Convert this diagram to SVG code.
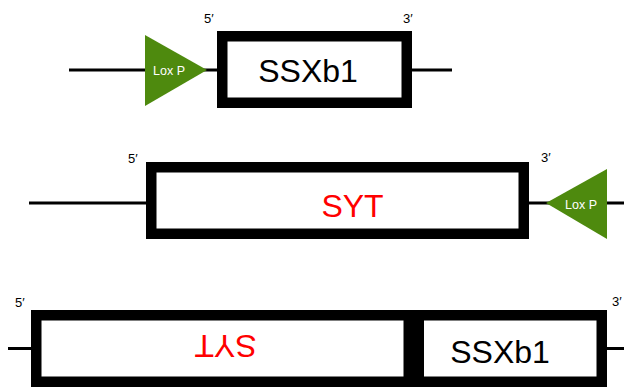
<svg xmlns="http://www.w3.org/2000/svg" width="624" height="388" viewBox="0 0 624 388">
<style>
.box{fill:#fff;stroke:#000;stroke-width:10.5}
.line{stroke:#000;stroke-width:3;fill:none}
.lox{fill:#4e8a0e}
.loxt{font-family:"Liberation Sans",Arial,sans-serif;font-size:12.5px;fill:#fff;text-anchor:middle}
.end{font-family:"Liberation Sans",Arial,sans-serif;font-size:13px;fill:#000}
.gene{font-family:"Liberation Sans",Arial,sans-serif;font-size:32px;text-anchor:middle}
</style>
<rect width="624" height="388" fill="#fff"/>
<g id="connectors">
<line class="line" x1="69" y1="70" x2="452" y2="70"/>
<line class="line" x1="29" y1="203" x2="624" y2="203"/>
<line class="line" x1="8" y1="348.5" x2="32" y2="348.5"/>
<line class="line" x1="606" y1="348.5" x2="624" y2="348.5"/>
</g>
<g id="row1-loxp">
<polygon class="lox" points="145,35 207,70 145,106"/>
<text class="loxt" x="169" y="75">Lox P</text>
</g>
<g id="row1-ssxb1">
<rect class="box" x="222.25" y="36.25" width="184.5" height="66.5"/>
<text class="gene" x="308" y="82" fill="#000">SSXb1</text>
<text class="end" x="204" y="23">5′</text>
<text class="end" x="403" y="23">3′</text>
</g>
<g id="row2-syt">
<rect class="box" x="151.25" y="167.25" width="372.5" height="66.5"/>
<text class="gene" x="352.5" y="217" fill="#ff0000">SYT</text>
<text class="end" x="128" y="163">5′</text>
<text class="end" x="541" y="162">3′</text>
</g>
<g id="row2-loxp">
<polygon class="lox" points="607,169 546,203 607,239"/>
<text class="loxt" x="581" y="209">Lox P</text>
</g>
<g id="row3-syt">
<rect class="box" x="36.25" y="315.25" width="372.5" height="66.5"/>
<text class="gene" x="225.5" y="358" fill="#ff0000" transform="rotate(180 225.5 346.5)">SYT</text>
<text class="end" x="15" y="307">5′</text>
</g>
<g id="row3-ssxb1">
<rect class="box" x="418.75" y="315.25" width="183" height="66.5"/>
<text class="gene" x="500" y="363" fill="#000">SSXb1</text>
<text class="end" x="612" y="306">3′</text>
</g>
</svg>
